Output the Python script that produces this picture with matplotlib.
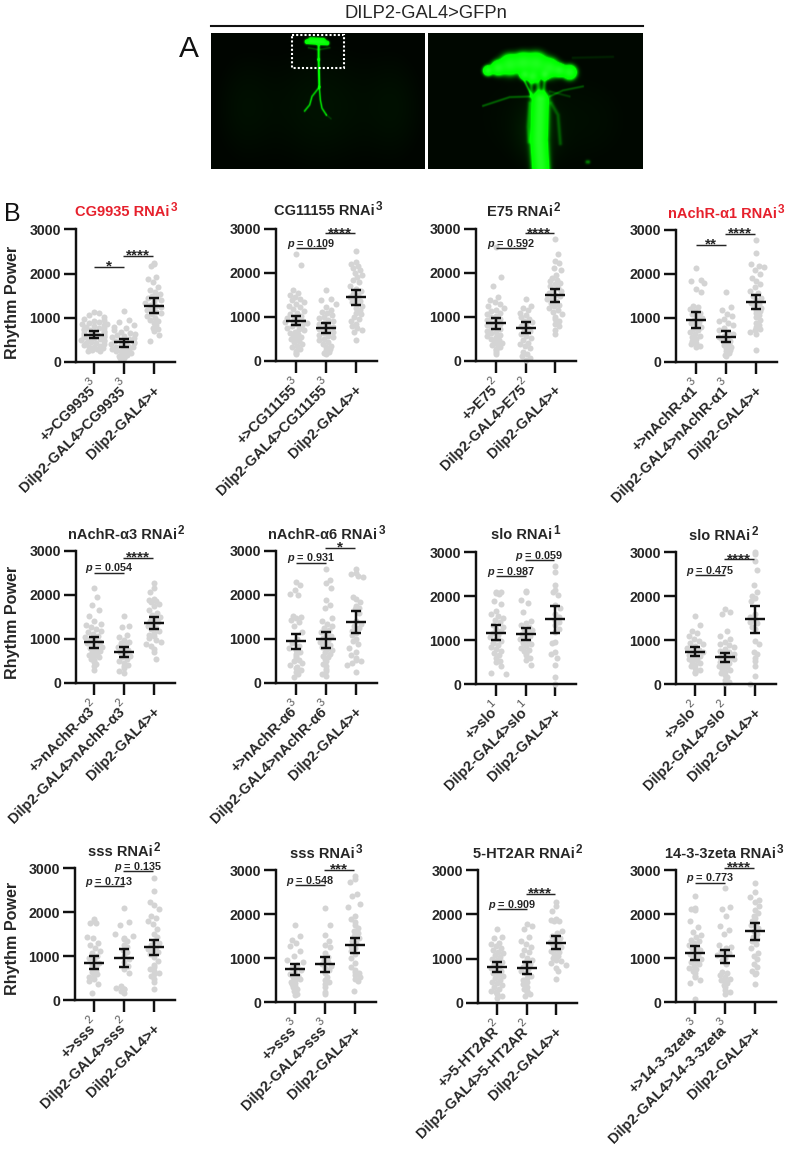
import numpy as np
import matplotlib
matplotlib.use("Agg")
import matplotlib.pyplot as plt
from matplotlib.patches import Rectangle
from matplotlib.transforms import ScaledTranslation

plt.rcParams['font.family'] = ['Liberation Sans', 'DejaVu Sans']
plt.rcParams['mathtext.fontset'] = 'custom'
plt.rcParams['mathtext.it'] = 'Liberation Sans:italic:bold'
plt.rcParams['mathtext.rm'] = 'Liberation Sans:bold'

W, H = 786, 1149
TXT = '#262626'
RED = '#e6202c'
DOT = '#d4d4d4'

# ---------- data ----------
group_driver = 'Dilp2-GAL4>'
control_label = 'Dilp2-GAL4>+'
y_tick_values = [0, 1000, 2000, 3000]

titles = ['CG9935 RNAi', 'CG11155 RNAi', 'E75 RNAi', 'nAchR-α1 RNAi',
          'nAchR-α3 RNAi', 'nAchR-α6 RNAi', 'slo RNAi', 'slo RNAi',
          'sss RNAi', 'sss RNAi', '5-HT2AR RNAi', '14-3-3zeta RNAi']
title_sups = ['3', '3', '2', '3', '2', '3', '1', '2', '2', '3', '2', '3']
title_red = [True, False, False, True, False, False, False, False, False, False, False, False]
genes = ['CG9935', 'CG11155', 'E75', 'nAchR-α1', 'nAchR-α3', 'nAchR-α6',
         'slo', 'slo', 'sss', 'sss', '5-HT2AR', '14-3-3zeta']

means = [[620, 445, 1270], [920, 740, 1450], [855, 750, 1490], [960, 575, 1370],
         [930, 700, 1360], [950, 990, 1390], [1160, 1140, 1470], [730, 610, 1470],
         [850, 950, 1200], [750, 860, 1290], [820, 790, 1360], [1110, 1040, 1610]]
err_low = [[545, 350, 1110], [810, 630, 1270], [730, 640, 1350], [770, 460, 1200],
           [800, 590, 1220], [770, 800, 1140], [990, 1010, 1170], [630, 510, 1170],
           [700, 760, 1030], [620, 690, 1120], [700, 650, 1210], [950, 880, 1420]]
err_high = [[700, 530, 1440], [1020, 860, 1620], [985, 880, 1640], [1130, 700, 1530],
            [1050, 820, 1510], [1120, 1170, 1640], [1330, 1270, 1770], [830, 700, 1770],
            [1000, 1160, 1370], [860, 1030, 1450], [930, 920, 1510], [1270, 1190, 1790]]

left_labels = ['*', 'p = 0.109', 'p = 0.592', '**', 'p = 0.054', 'p = 0.931',
               'p = 0.987', 'p = 0.475', 'p = 0.713', 'p = 0.548', 'p = 0.909', 'p = 0.773']
left_levels = [2154, 2560, 2560, 2670, 2510, 2735, 2460, 2470, 2590, 2660, 2115, 2715]
right_labels = ['****', '****', '****', '****', '****', '*',
                'p = 0.059', '****', 'p = 0.135', '***', '****', '****']
right_levels = [2400, 2900, 2900, 2920, 2840, 3075, 2815, 2830, 2930, 3010, 2460, 3045]

cg9935_a = [1130,1100,1060,1020,980,960,930,900,880,860,850,830,810,800,780,760,750,730,720,700,690,670,650,640,620,610,600,590,570,560,540,530,510,500,490,470,460,440,420,410,390,370,350,330,310,300,280,260,240]
cg9935_b = [1160,960,900,840,800,760,720,690,660,640,610,590,560,540,520,500,480,460,440,420,400,390,370,350,330,310,300,280,260,240,220,200,180,160,140,120,100,80]
cg9935_c = [2250,2220,2180,1930,1880,1800,1700,1640,1580,1550,1500,1470,1440,1400,1370,1340,1300,1270,1240,1200,1170,1140,1110,1080,1040,1000,960,920,880,830,780,750,700,620,480]
cg11155_a = [2430,2190,1620,1550,1500,1460,1420,1380,1340,1300,1260,1220,1180,1140,1100,1060,1030,1000,970,950,920,900,880,860,840,810,790,760,730,700,670,640,610,580,550,520,490,460,430,390,350,310,270,230,190,150]
cg11155_b = [1610,1420,1380,1290,1230,1170,1120,1080,1040,1000,970,940,900,870,840,810,780,750,720,690,660,630,600,570,540,500,470,430,390,350,320,280,240,210,190,160]
cg11155_c = [2490,2260,2200,2170,2120,2060,1990,1950,1900,1850,1800,1700,1640,1580,1530,1490,1450,1410,1370,1330,1290,1250,1200,1150,1100,1060,1000,950,900,850,800,750,700,650,480]
e75_a = [2580,1900,1700,1450,1380,1330,1290,1250,1210,1170,1130,1090,1060,1020,990,960,930,900,870,840,810,780,750,720,690,660,630,600,570,540,510,480,450,420,390,360,320,280,240,200,160]
e75_b = [1400,1250,1210,1160,1100,1040,1000,960,920,880,840,800,760,720,680,620,570,520,470,420,380,340,290,200,160,110,70,30]
e75_c = [2770,2440,2280,2220,2120,2060,1950,1880,1850,1810,1780,1740,1700,1660,1620,1580,1550,1510,1470,1430,1400,1360,1320,1280,1240,1200,1160,1110,1060,1000,950,900,850,790,700,610]
a1_a = [2130,1860,1850,1800,1660,1590,1280,1240,1200,1160,1120,1080,1040,1000,960,920,880,840,800,760,720,680,640,600,560,520,480,440,400,360,350]
a1_b = [1580,1250,1180,1100,1040,980,930,880,830,770,720,680,640,600,560,530,500,470,440,410,380,350,320,280,240,200,150,130]
a1_c = [2770,2470,2230,2190,2150,2080,2000,1920,1850,1780,1700,1620,1560,1500,1450,1400,1350,1310,1270,1230,1190,1150,1110,1070,1020,960,880,840,790,750,720,690,640,280]
a3_a = [2150,1960,1770,1670,1520,1400,1350,1310,1270,1230,1190,1150,1110,1070,1040,1000,970,940,910,880,850,820,790,760,730,700,670,640,610,580,550,520,480,430,380,290]
a3_b = [1530,1300,1270,1100,1040,980,940,900,860,820,780,740,700,660,620,580,540,500,460,420,380,330,280,230]
a3_c = [2270,2170,2060,1900,1890,1860,1850,1800,1750,1650,1600,1550,1500,1460,1420,1380,1340,1300,1260,1220,1180,1140,1100,1060,1020,980,930,880,830,770,700,550]
a6_a = [2290,2220,2120,2020,2000,1520,1500,1470,1430,1380,1290,1150,1000,900,830,790,750,700,650,610,570,530,490,450,410,370,330,290,250,200,130]
a6_b = [2600,2340,2280,2160,1880,1780,1700,1480,1400,1350,1300,1250,1200,1150,1100,1060,1020,980,940,900,860,820,780,740,700,660,620,580,540,490,440,380,320,270,210,150]
a6_c = [2600,2490,2470,2440,2400,1960,1900,1850,1750,1700,1680,1600,1420,1350,1290,1240,1190,1140,1090,1010,950,880,800,700,640,560,530,510,450,410,240]
slo1_a = [2100,2090,2070,2050,1880,1820,1650,1600,1550,1500,1450,1400,1350,1300,1260,1200,1150,1110,1070,1020,970,930,880,830,790,750,700,650,600,530,500,420,250,220]
slo1_b = [2110,2100,1900,1830,1640,1440,1390,1340,1300,1260,1220,1180,1140,1100,1060,1020,980,940,900,860,820,780,740,700,650,600,550,430]
slo1_c = [2680,2550,2250,2130,2100,2030,1800,1720,1600,1520,1460,1400,1330,1250,1180,960,930,730,680,580,430,170,10]
slo2_a = [1550,1330,1200,1150,1080,1020,980,940,900,860,820,780,750,720,690,660,630,600,570,540,510,480,440,400,360,320,280,240]
slo2_b = [1700,1640,1580,1200,1100,1020,960,920,880,840,800,760,720,680,650,620,590,560,530,500,470,440,410,380,350,320,280,240,200,150,100,50,20]
slo2_c = [3000,2950,2800,2600,2250,2080,2000,1950,1880,1600,1520,1480,1420,1380,1300,1250,980,920,720,680,600,520,420,190,10]
sss2_a = [1840,1800,1760,1740,1430,1410,1300,1250,1180,1120,1060,1000,950,900,850,800,760,720,680,640,600,560,520,470,430,370,170]
sss2_b = [2080,1780,1700,1500,1450,1420,1380,1340,1260,1200,1130,1080,1000,930,860,780,700,620,320,270,250,240,210,170]
sss2_c = [2770,2470,2230,2150,2060,1900,1870,1800,1730,1610,1500,1430,1350,1300,1260,1210,1170,1130,1090,1050,970,880,800,740,700,660,620,580,540,480,420,260]
sss3_a = [1760,1510,1420,1340,1270,1170,1050,960,900,840,780,730,680,640,600,560,520,490,460,430,400,370,340,300,240,180,150]
sss3_b = [2140,1760,1530,1380,1300,1240,1120,1020,960,900,860,820,780,720,650,570,510,460,400,340,220,180]
sss3_c = [2860,2800,2720,2450,2420,2220,2150,1950,1880,1820,1740,1680,1620,1560,1500,1450,1380,1330,1280,1220,1150,1080,990,880,790,730,690,650,620,570,520,470,240]
ht2_a = [1680,1500,1470,1360,1320,1280,1240,1200,1160,1120,1080,1040,1000,960,920,880,840,800,760,720,680,640,600,560,520,480,440,400,360,320,280,240,200,150,120]
ht2_b = [1780,1740,1660,1500,1400,1320,1260,1200,1140,1080,1020,970,920,870,820,770,720,670,620,570,520,470,420,370,320,280,240,200,150]
ht2_c = [2280,2180,2080,1900,1880,1860,1840,1620,1570,1510,1460,1420,1380,1340,1300,1260,1220,1180,1140,1100,1060,1020,980,940,900,850,790,720,550]
zeta_a = [2420,2130,2120,2100,1850,1700,1600,1520,1470,1420,1380,1340,1300,1260,1220,1180,1140,1100,1060,1020,980,940,900,860,820,780,740,700,650,600,560,490,430,60]
zeta_b = [2600,2150,2110,1950,1730,1640,1540,1290,1250,1220,1170,1120,1070,1010,950,870,680,660,620,570,530,500,470,430,380,340,280,220,190]
zeta_c = [2700,2490,2380,2320,2270,2180,2100,2020,1950,1900,1850,1790,1740,1680,1620,1540,1480,1430,1380,1320,1230,1110,1050,970,870,800,700,660,630,410]

points = [[cg9935_a, cg9935_b, cg9935_c], [cg11155_a, cg11155_b, cg11155_c],
          [e75_a, e75_b, e75_c], [a1_a, a1_b, a1_c], [a3_a, a3_b, a3_c], [a6_a, a6_b, a6_c],
          [slo1_a, slo1_b, slo1_c], [slo2_a, slo2_b, slo2_c], [sss2_a, sss2_b, sss2_c],
          [sss3_a, sss3_b, sss3_c], [ht2_a, ht2_b, ht2_c], [zeta_a, zeta_b, zeta_c]]

# ---------- layout, in pixels ----------
# left spine, y of 0, y of 3000, right end, first and last tick
frames = [(76, 362, 229.5, 175, 94, 154), (276, 361, 229, 377, 296, 356),
          (476, 361, 229, 576, 496, 555), (676, 362, 230, 777, 696, 756),
          (76, 683, 551, 175, 94, 154), (276, 683, 551, 377, 296, 356),
          (476, 684, 552, 576, 496, 555), (676, 684, 552, 776, 695, 755),
          (75, 1000, 868, 175, 94, 154), (276, 1002, 870, 376, 295, 355),
          (478, 1003, 870, 577, 497, 556), (676, 1002, 870, 776, 695, 755)]
title_pos = [(122, 212), (324.5, 211), (520, 212), (722, 214),
             (122, 535), (323, 535), (522, 535), (720, 536),
             (120, 852), (322, 854), (524, 854), (720, 854)]

fig = plt.figure(figsize=(W / 100, H / 100), dpi=100, facecolor='white')


def px_axes(l, t, r, b):
    return fig.add_axes([l / W, 1 - b / H, (r - l) / W, (b - t) / H])


def swarm(values, dx_per_px, dy_per_px, d=4.6, limit=13.0):
    out = []
    placed = []
    for v in sorted(values):
        py = v / dy_per_px
        best = None
        for k in range(0, 28):
            for sign in ((1, -1) if len(placed) % 2 else (-1, 1)):
                off = sign * k * 1.0
                if abs(off) > limit:
                    continue
                if all((off - a) ** 2 + (py - b) ** 2 >= d * d for a, b in placed):
                    best = off
                    break
            if best is not None:
                break
        if best is None:
            best = limit * (1 if len(placed) % 2 else -1) * 0.8
        placed.append((best, py))
        out.append(best * dx_per_px)
    return np.array(out)


def bracket(ax, i0, label, level, side):
    if side == 0:
        x0, x1 = 0.0, 1.0
    else:
        x0, x1 = 0.97, 1.97
    ax.plot([x0, x1], [level, level], color=TXT, lw=1.05, clip_on=False, zorder=4,
            solid_capstyle='butt')
    xm = (x0 + x1) / 2
    if label.startswith('p'):
        ax.annotate(r'$\mathit{p}$' + label[1:], (xm, level), xytext=(0, 0.9),
                    textcoords='offset points', ha='center', va='baseline', fontsize=7.8,
                    fontweight='bold', color=TXT, annotation_clip=False, zorder=5)
    else:
        ax.annotate(label, (xm, level), xytext=(0, -2.8), textcoords='offset points',
                    ha='center', va='baseline', fontsize=11, fontweight='bold',
                    color=TXT, annotation_clip=False, zorder=5)


for i, (l, y0, y3, r, t0, t2) in enumerate(frames):
    ax = px_axes(l, y3, r, y0)
    unit = (t2 - t0) / 2
    ax.set_xlim((l - t0) / unit, (r - t0) / unit)
    ax.set_ylim(0, 3000)
    ax.patch.set_alpha(0)
    for s in ('top', 'right'):
        ax.spines[s].set_visible(False)
    for s in ('left', 'bottom'):
        ax.spines[s].set_linewidth(1.75)
        ax.spines[s].set_color('#111111')
    dy = 3000 / (y0 - y3)
    for g in range(3):
        vals = points[i][g]
        ax.scatter(g + swarm(vals, 1 / unit, dy), vals, s=19, color=DOT, linewidths=0,
                   clip_on=False, zorder=2)
        ax.plot([g - 10 / unit, g + 10 / unit], [means[i][g]] * 2, color='#111111', lw=1.75,
                solid_capstyle='butt', zorder=3)
        ax.errorbar(g, means[i][g],
                    yerr=[[means[i][g] - err_low[i][g]], [err_high[i][g] - means[i][g]]],
                    color='#111111', elinewidth=1.75, capsize=3.6, capthick=1.75,
                    zorder=3, fmt='none')
    ax.set_yticks(y_tick_values)
    ax.set_yticklabels([str(v) for v in y_tick_values], fontsize=10.2, fontweight='bold', color=TXT)
    ax.tick_params(axis='y', length=8.6, width=1.75, pad=2.2, color='#111111')
    gene = genes[i]
    sup = title_sups[i]
    ax.set_xticks([0, 1, 2])
    ax.set_xticklabels(['+>' + gene, group_driver + gene, control_label], fontsize=10.5,
                       fontweight='bold', color=TXT, rotation=45, ha='right', va='top',
                       rotation_mode='anchor')
    ax.tick_params(axis='x', length=8.6, width=1.75, pad=4, color='#111111')
    for n, lab in enumerate(ax.get_xticklabels()):
        sx = -1 if n == 2 else -6
        shift = ScaledTranslation(sx / 100, -4 / 100, fig.dpi_scale_trans)
        lab.set_transform(lab.get_transform() + shift)
    for g in (0, 1):
        ax.annotate(sup, (g, 0), xytext=(-3.2, -14.5), textcoords='offset points', rotation=45,
                    ha='center', va='center', fontsize=8, color='#555555',
                    annotation_clip=False)
    bracket(ax, i, left_labels[i], left_levels[i], 0)
    bracket(ax, i, right_labels[i], right_levels[i], 1)
    tx, ty = title_pos[i]
    tt = fig.text(tx / W, 1 - ty / H, titles[i], ha='center', va='center', fontsize=10.5,
                  fontweight='bold', color=RED if title_red[i] else TXT)
    ax.annotate(sup, xy=(1, 1), xycoords=tt, xytext=(0.8, -2.5), textcoords='offset points',
                ha='left', va='center', fontsize=8.5,
                fontweight='bold', color=RED if title_red[i] else TXT, annotation_clip=False)

for yc in (302, 622, 938):
    fig.text(13 / W, 1 - yc / H, 'Rhythm Power', rotation=90, ha='center', va='center',
             fontsize=11.6, fontweight='bold', color=TXT)

# ---------- panel A, fluorescence images ----------
def render(w, h, strokes, glows):
    yy, xx = np.mgrid[0:h, 0:w] + 0.5
    img = np.zeros((h, w))
    for cx, cy, sx, sy, amp in glows:
        img += amp * np.exp(-((xx - cx) / sx) ** 2 - ((yy - cy) / sy) ** 2)
    for pts, sig, amp in strokes:
        dist = np.full((h, w), 1e9)
        for (xa, ya), (xb, yb) in zip(pts[:-1], pts[1:]):
            vx, vy = xb - xa, yb - ya
            t = np.clip(((xx - xa) * vx + (yy - ya) * vy) / (vx * vx + vy * vy + 1e-9), 0, 1)
            dist = np.minimum(dist, np.hypot(xx - xa - t * vx, yy - ya - t * vy))
        img += amp * np.exp(-(dist / sig) ** 2)
    rgb = np.zeros((h, w, 3))
    rgb[..., 1] = np.clip(img, 0, 1)
    rgb[..., 0] = rgb[..., 2] = np.clip((img - 1.6) * 0.03, 0, 0.2)
    return rgb


def to_panel(pts, x0, y0=98):
    return [((x - x0) / 3, (y - y0) / 3) for x, y in pts]


def blob(cx, cy, r):
    return ([(cx, cy), (cx + 0.1, cy)], r / 3 / 1.25, 5)


left_strokes = [
    ([(410, 127), (470, 131)], 2.0, 2.5), ([(422, 122), (458, 124)], 2.4, 2.5),
    ([(445, 136), (445, 180)], 1.4, 1.0), ([(445, 180), (447, 262)], 1.2, 1.1),
    ([(447, 262), (425, 290), (418, 315), (403, 333)], 1.0, 0.75),
    ([(447, 262), (450, 300), (455, 325), (468, 345)], 1.0, 0.75),
    ([(468, 345), (482, 356)], 0.8, 0.2),
    ([(415, 145), (440, 150)], 1.0, 0.25), ([(478, 145), (450, 150)], 1.0, 0.25),
]
left_glows = [(110, 75, 55, 60, 0.07), (32, 75, 30, 55, 0.05), (185, 75, 30, 55, 0.05)]
right_strokes = [
    blob(955, 213, 14), blob(985, 205, 20), blob(1020, 195, 28), blob(1060, 190, 28),
    blob(1100, 192, 30), blob(1140, 205, 26), blob(1170, 212, 18), blob(1200, 218, 20),
    blob(1090, 230, 18), blob(1065, 225, 14), blob(1125, 225, 14),
    ([(1112, 300), (1108, 420), (1114, 515)], 6.0, 6),
    ([(1085, 232), (1085, 290)], 2.0, 0.45), ([(1105, 240), (1108, 295)], 2.5, 0.55),
    ([(1125, 240), (1120, 295)], 2.0, 0.5), ([(1055, 225), (1085, 285)], 1.2, 0.6),
    ([(1085, 290), (1020, 292), (940, 318)], 1.0, 0.4),
    ([(1140, 290), (1180, 272), (1240, 260)], 1.0, 0.35),
    ([(1140, 275), (1200, 290)], 1.0, 0.22),
    ([(1080, 310), (1075, 380), (1078, 425)], 2.0, 0.3),
    ([(1145, 310), (1165, 345), (1172, 430)], 2.0, 0.28),
    ([(1253, 485), (1256, 485)], 2.0, 0.45), ([(1210, 175), (1330, 172)], 1.4, 0.12),
]
right_glows = [(110, 85, 80, 60, 0.05), (110, 100, 20, 28, 0.10), (175, 90, 40, 50, 0.02)]

img_l = render(214, 136, [(to_panel(p, 122), s, a) for p, s, a in left_strokes], left_glows)
img_r = render(215, 136, [(to_panel(p, 775), s, a) for p, s, a in right_strokes], right_glows)
img_l[..., 1] = np.maximum(img_l[..., 1], 0.02)
img_r[..., 1] = np.maximum(img_r[..., 1], 0.03)

ax_l = px_axes(210.7, 32.7, 424.7, 169)
ax_l.imshow(img_l, aspect='auto', interpolation='bilinear')
ax_l.add_patch(Rectangle((81, 2), 52, 33, fill=False, ec='white', lw=1.5, ls=(0, (1, 1))))
ax_l.axis('off')
ax_r = px_axes(428, 32.7, 643, 169)
ax_r.imshow(img_r, aspect='auto', interpolation='bilinear')
ax_r.axis('off')

fig.add_artist(plt.Line2D([211 / W, 643 / W], [1 - 25.7 / H] * 2, color='#111111', lw=1.5))
fig.text(426 / W, 1 - 13 / H, 'DILP2-GAL4>GFPn', ha='center', va='center', fontsize=13.2, color=TXT)
fig.text(188.5 / W, 1 - 49 / H, 'A', ha='center', va='center', fontsize=21.5, color='#111111')
fig.text(12 / W, 1 - 214 / H, 'B', ha='center', va='center', fontsize=18, color='#111111')

fig.savefig('out.png', dpi=100)
